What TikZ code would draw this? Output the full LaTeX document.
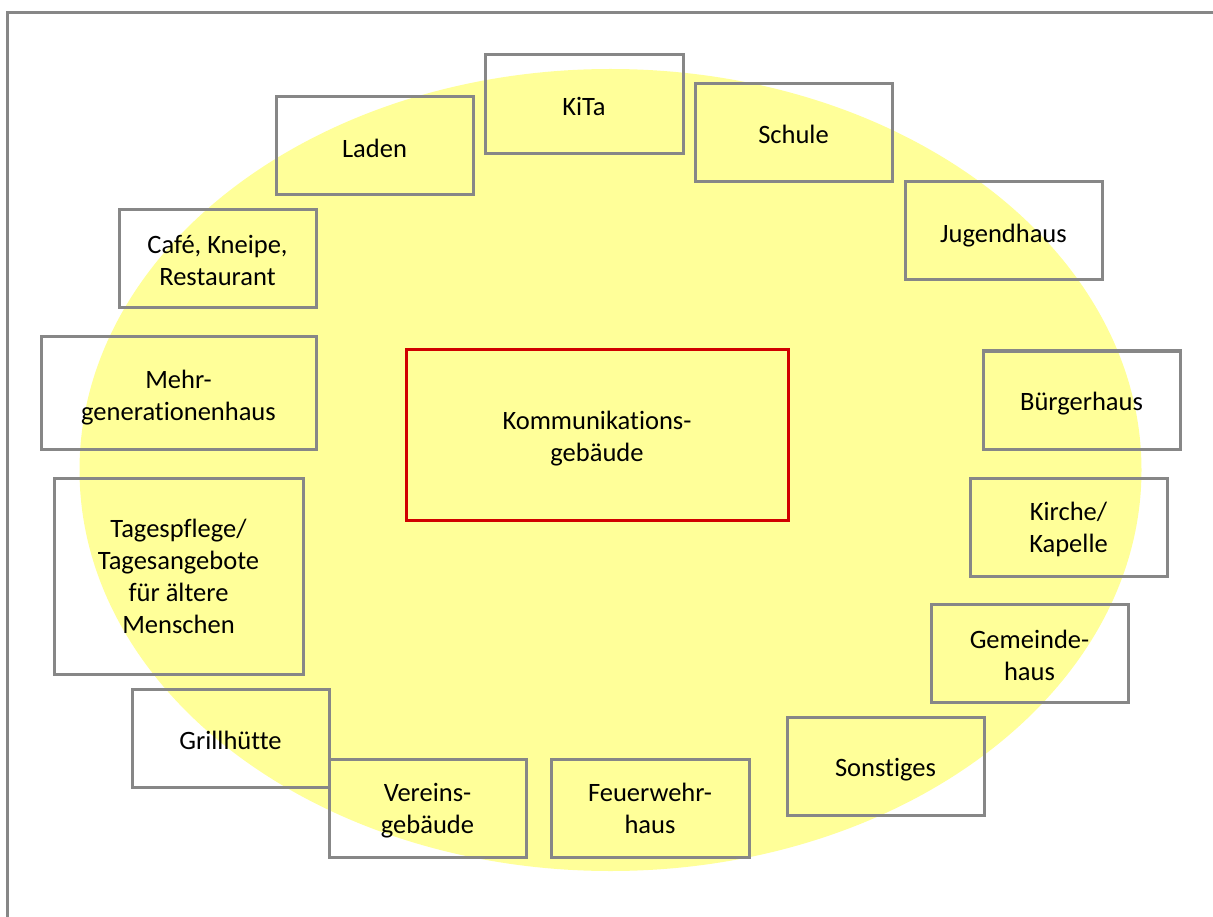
\documentclass[tikz,border=0pt]{standalone}
\usepackage{fontspec}
\setmainfont[Ligatures=NoCommon]{Carlito}
\definecolor{ellyellow}{HTML}{FFFF99}
\definecolor{boxgray}{HTML}{878787}
\definecolor{boxred}{HTML}{D00000}
\tikzset{
  item/.style={draw=boxgray, line width=3pt, rectangle, inner sep=0pt},
  centerbox/.style={item, draw=boxred},
  itemtext/.style={inner sep=0pt, align=center, font=\fontsize{26.5}{32}\selectfont}
}
\newcommand{\bx}[7]{% name, x1, y1, x2, y2, text shift down, text
  \node[item, minimum width={#4-#2}, minimum height={#5-#3}] (#1) at ({(#2+#4)/2},{(#3+#5)/2}) {};
  \node[itemtext] (#1-t) at ([yshift=-#6pt]#1.center) {#7};}
\begin{document}
\begin{tikzpicture}[x=1pt,y=-1pt]
\useasboundingbox (0,0) rectangle (1213,917);
\fill[white] (0,0) rectangle (1213,917);
\fill[ellyellow] (610.5,470) ellipse [x radius=531, y radius=401];
\draw[boxgray, line width=3pt] (7.5,920) -- (7.5,12.5) -- (1216,12.5);
\bx{kita}{485}{55}{683}{154}{1.5}{KiTa}
\bx{laden}{276}{97}{473}{195}{2}{Laden}
\bx{schule}{695}{84}{892}{182}{1}{Schule}
\bx{jugend}{905}{182}{1102}{280}{4.5}{Jugendhaus}
\bx{cafe}{119}{210}{316}{308}{1}{Café, Kneipe,\\Restaurant}
\bx{mehr}{41}{337}{316}{449}{4.5}{Mehr-\\generationenhaus}
\bx{buerger}{983}{351}{1180}{449}{4}{Bürgerhaus}
\bx{kirche}{970}{478}{1167}{576}{2}{Kirche/\\Kapelle}
\bx{tages}{54}{478}{303}{674}{0.5}{Tagespflege/\\Tagesangebote\\für ältere\\Menschen}
\bx{gemeinde}{931}{604}{1128}{702}{2}{Gemeinde-\\haus}
\bx{grill}{132}{689}{329}{787}{2}{Grillhütte}
\bx{sonst}{787}{717}{984}{815}{4}{Sonstiges}
\bx{verein}{329}{759}{526}{857}{2.5}{Vereins-\\gebäude}
\bx{feuer}{551}{759}{749}{857}{0.5}{Feuerwehr-\\haus}
\node[centerbox, minimum width=382, minimum height=170] (komm) at (597,435) {};
\node[itemtext] (komm-t) at ([yshift=-4pt]komm.center) {Kommunikations-\\gebäude};
\end{tikzpicture}
\end{document}
